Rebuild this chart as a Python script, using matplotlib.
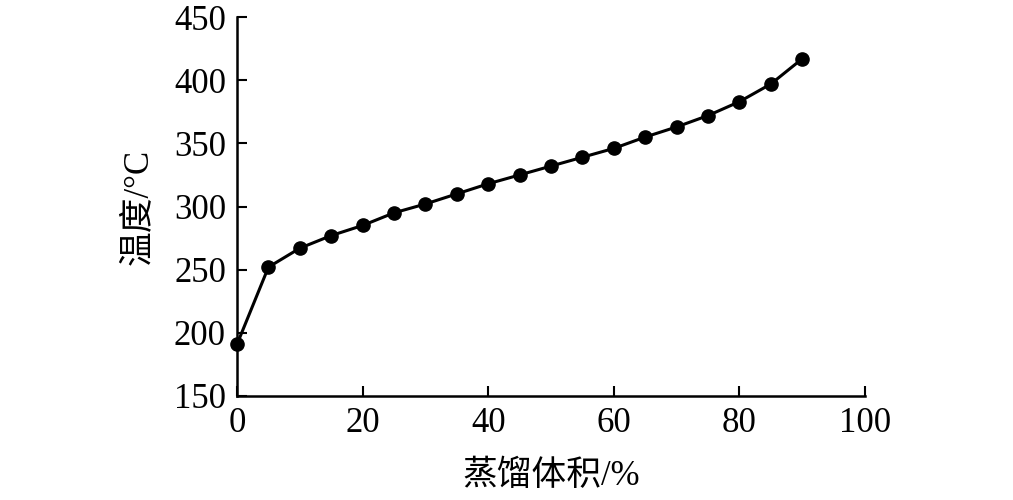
import matplotlib
matplotlib.use('Agg')
import matplotlib.pyplot as plt

volume = [0, 5, 10, 15, 20, 25, 30, 35, 40, 45, 50, 55, 60, 65, 70, 75, 80, 85, 90]
temperature = [191, 252, 267, 277, 285, 295, 302, 310, 318, 325, 332, 339, 346, 355, 363, 372, 383, 397, 417]

xticks = [0, 20, 40, 60, 80, 100]
yticks = [150, 200, 250, 300, 350, 400, 450]

fonts = ['Liberation Serif', 'Noto Sans CJK SC']
plt.rcParams['font.family'] = fonts

fig = plt.figure(figsize=(10.13, 5), dpi=100)
ax = fig.add_axes([0.234, 0.208, 0.62, 0.758])

ax.plot(volume, temperature, color='black', lw=2.2, marker='o', markersize=9.5, clip_on=False, zorder=3)

ax.set_xlim(0, 100)
ax.set_ylim(150, 450)
ax.set_xticks(xticks)
ax.set_yticks(yticks)
ax.tick_params(direction='in', length=7, width=1.5, labelsize=25, pad=8)
for s in ['top', 'right']:
    ax.spines[s].set_visible(False)
for s in ['left', 'bottom']:
    ax.spines[s].set_linewidth(1.8)

ax.set_xlabel('蒸馏体积/%', fontsize=25, family=fonts, labelpad=14)
ax.set_ylabel('温度/°C', fontsize=25, family=fonts, labelpad=14)

fig.savefig('out.png', dpi=100)
